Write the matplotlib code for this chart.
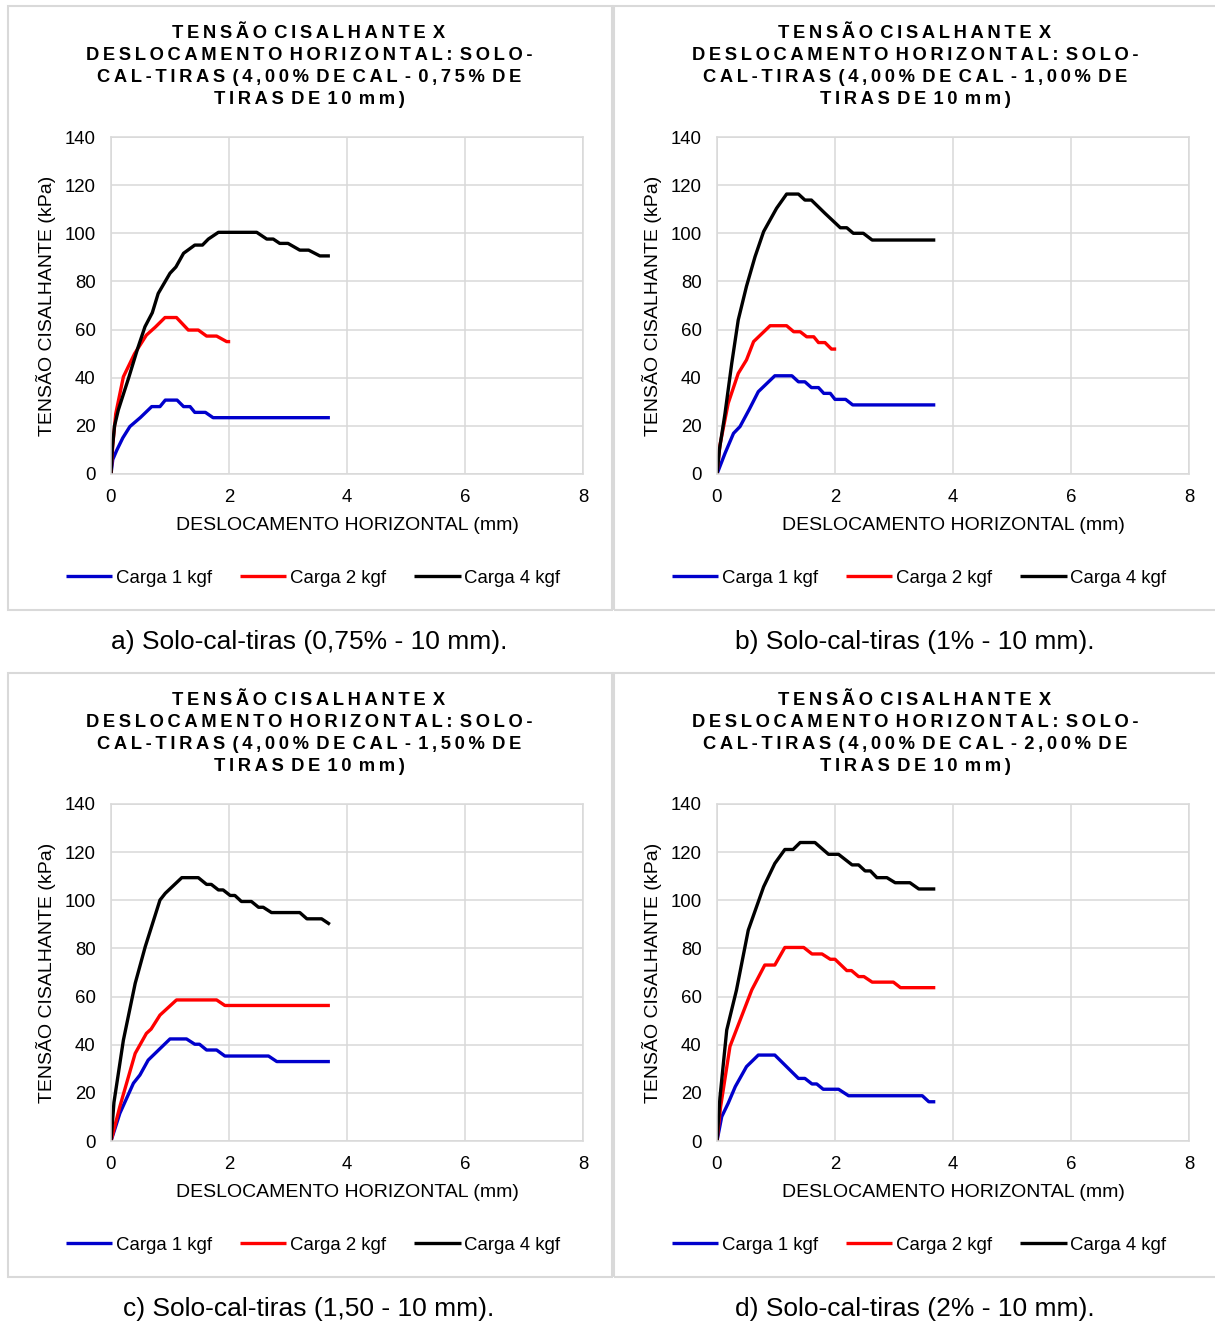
import matplotlib
matplotlib.use('Agg')
import matplotlib.pyplot as plt
from matplotlib.patches import Rectangle

plt.rcParams['font.family'] = ['Liberation Sans', 'DejaVu Sans']

W, H = 1215, 1324

# panel a) 0,75%
a_blue_x = [0, 0.03, 0.1, 0.2, 0.32, 0.5, 0.69, 0.75, 0.83, 0.92, 1.12, 1.23, 1.34, 1.42, 1.6, 1.73, 3.71]
a_blue_y = [0, 6, 10, 15, 19.7, 23.5, 28, 28, 28, 30.7, 30.7, 28, 28, 25.6, 25.6, 23.4, 23.4]
a_red_x = [0, 0.03, 0.08, 0.21, 0.4, 0.6, 0.75, 0.915, 1.11, 1.31, 1.48, 1.62, 1.79, 1.96, 2.02]
a_red_y = [0, 12, 25, 40.4, 50, 57.7, 61, 65, 65, 59.8, 59.8, 57.3, 57.3, 55, 55]
a_black_x = [0, 0.02, 0.06, 0.124, 0.3, 0.45, 0.576, 0.7, 0.8, 1.0, 1.1, 1.23, 1.42, 1.55, 1.65,
             1.82, 2.47, 2.64, 2.75, 2.86, 3.0, 3.2, 3.35, 3.54, 3.71]
a_black_y = [0, 10, 20, 26.6, 40, 52, 61.2, 67, 75, 83.4, 86, 91.7, 95.1, 95.1, 97.6,
             100.4, 100.4, 97.6, 97.6, 95.8, 95.8, 93, 93, 90.6, 90.6]

# panel b) 1%
b_blue_x = [0, 0.136, 0.28, 0.39, 0.55, 0.7, 0.98, 1.27, 1.38, 1.49, 1.6, 1.72, 1.81, 1.92, 2.0, 2.18, 2.3, 3.7]
b_blue_y = [0, 8.6, 16.9, 19.7, 27, 34.2, 40.8, 40.8, 38.3, 38.3, 35.9, 35.9, 33.5, 33.5, 31, 31, 28.7, 28.7]
b_red_x = [0, 0.05, 0.19, 0.36, 0.5, 0.62, 0.9, 1.18, 1.3, 1.41, 1.52, 1.64, 1.72, 1.83, 1.94, 2.02]
b_red_y = [0, 12, 29.4, 41.8, 47.4, 55, 61.6, 61.6, 59.1, 59.1, 57, 57, 54.6, 54.6, 51.9, 51.9]
b_black_x = [0, 0.04, 0.136, 0.25, 0.36, 0.5, 0.645, 0.79, 1.01, 1.18, 1.38, 1.49, 1.6, 1.83,
             2.09, 2.2, 2.31, 2.48, 2.63, 3.7]
b_black_y = [0, 10, 25.2, 46, 64, 78, 90.3, 100.7, 110.4, 116.3, 116.3, 113.8, 113.8, 108.3,
             102.3, 102.3, 100, 100, 97.2, 97.2]

# panel c) 1,50%
c_blue_x = [0, 0.15, 0.38, 0.49, 0.63, 1.0, 1.28, 1.42, 1.5, 1.62, 1.79, 1.93, 2.67, 2.81, 3.71]
c_blue_y = [0, 11.5, 24, 27.4, 33.6, 42.4, 42.4, 40.2, 40.2, 37.8, 37.8, 35.3, 35.3, 33, 33]
c_red_x = [0, 0.15, 0.41, 0.6, 0.68, 0.83, 1.11, 1.79, 1.93, 3.71]
c_red_y = [0, 14.3, 36.4, 44.7, 46.5, 52.3, 58.6, 58.6, 56.3, 56.3]
c_black_x = [0, 0.05, 0.21, 0.41, 0.58, 0.83, 0.92, 1.2, 1.48, 1.62, 1.7, 1.82, 1.9, 2.02, 2.1,
             2.21, 2.38, 2.5, 2.58, 2.72, 3.2, 3.32, 3.57, 3.71]
c_black_y = [0, 16, 41.9, 65.5, 80.7, 100.1, 102.9, 109.4, 109.4, 106.6, 106.6, 104.3, 104.3, 102, 102,
             99.5, 99.5, 97.1, 97.1, 94.9, 94.9, 92.3, 92.3, 90]

# panel d) 2%
d_blue_x = [0, 0.08, 0.19, 0.31, 0.5, 0.7, 0.98, 1.38, 1.49, 1.61, 1.69, 1.8, 2.06, 2.23, 3.48, 3.59, 3.7]
d_blue_y = [0, 10.1, 15.7, 22.6, 30.9, 35.7, 35.7, 26, 26, 23.7, 23.7, 21.5, 21.5, 18.8, 18.8, 16.3, 16.3]
d_red_x = [0, 0.06, 0.22, 0.59, 0.81, 0.98, 1.15, 1.47, 1.61, 1.78, 1.92, 2.0, 2.2, 2.28, 2.4, 2.49,
           2.63, 2.99, 3.11, 3.7]
d_red_y = [0, 14, 39.3, 62.8, 73.1, 73.1, 80.4, 80.4, 77.7, 77.7, 75.5, 75.5, 70.8, 70.8, 68.3, 68.3,
           66, 66, 63.7, 63.7]
d_black_x = [0, 0.05, 0.165, 0.33, 0.53, 0.79, 0.98, 1.15, 1.29, 1.41, 1.66, 1.89, 2.06, 2.29, 2.4,
             2.51, 2.6, 2.71, 2.88, 3.02, 3.27, 3.42, 3.7]
d_black_y = [0, 18, 46.1, 62.7, 87.6, 105.6, 115.3, 121.1, 121.1, 124, 124, 119.1, 119.1, 114.7, 114.7,
             112.2, 112.2, 109.4, 109.4, 107.3, 107.3, 104.7, 104.7]

percentages = ['0,75%', '1,00%', '1,50%', '2,00%']
captions = ['a) Solo-cal-tiras (0,75% - 10 mm).', 'b) Solo-cal-tiras (1% - 10 mm).',
            'c) Solo-cal-tiras (1,50 - 10 mm).', 'd) Solo-cal-tiras (2% - 10 mm).']
labels = ['Carga 1 kgf', 'Carga 2 kgf', 'Carga 4 kgf']
colors = ['#0000CC', '#FF0000', '#000000']

panels = [
    [(a_blue_x, a_blue_y), (a_red_x, a_red_y), (a_black_x, a_black_y)],
    [(b_blue_x, b_blue_y), (b_red_x, b_red_y), (b_black_x, b_black_y)],
    [(c_blue_x, c_blue_y), (c_red_x, c_red_y), (c_black_x, c_black_y)],
    [(d_blue_x, d_blue_y), (d_red_x, d_red_y), (d_black_x, d_black_y)],
]

grid_col = '#d9d9d9'


def spaced(s):
    # letter spacing inside words, a slightly wider gap between words (Excel-like title)
    return '\u2009\u2009'.join('\u2009'.join(w) for w in s.split(' '))


fig = plt.figure(figsize=(W / 100, H / 100), dpi=100)

# offsets in pixels: (panel left, panel top)
offsets = [(0, 0), (606, 0), (0, 667), (606, 667)]

for i, series in enumerate(panels):
    ox, oy = offsets[i]
    # panel frame
    fig.patches.append(Rectangle(((8 + ox) / W, 1 - (610 + oy) / H), 604 / W, 604 / H,
                                 transform=fig.transFigure, fill=False,
                                 edgecolor=grid_col, lw=1.5))
    ax = fig.add_axes([(111 + ox) / W, 1 - (474 + oy) / H, 472 / W, 337 / H])
    for (x, y), c, lab in zip(series, colors, labels):
        ax.plot(x, y, color=c, lw=2.4, label=lab, solid_capstyle='butt')
    ax.set_xlim(0, 8)
    ax.set_ylim(0, 140)
    ax.set_xticks([0, 2, 4, 6, 8])
    ax.set_yticks(range(0, 141, 20))
    ax.grid(True, color=grid_col, lw=1.1)
    ax.set_axisbelow(True)
    for sp in ax.spines.values():
        sp.set_color(grid_col)
        sp.set_linewidth(1.1)
    ax.tick_params(length=0, labelsize=13.4, pad=11)
    ax.set_xlabel('DESLOCAMENTO HORIZONTAL (mm)', fontsize=14, labelpad=8)
    ax.set_ylabel('TENSÃO CISALHANTE (kPa)', fontsize=14, labelpad=6)

    title_lines = ['TENSÃO CISALHANTE X',
                   'DESLOCAMENTO HORIZONTAL: SOLO-',
                   'CAL-TIRAS (4,00% DE CAL - ' + percentages[i] + ' DE',
                   'TIRAS DE 10 mm)']
    cx = 309 + ox
    for k, line in enumerate(title_lines):
        fig.text(cx / W, 1 - (34 + 21.8 * k + oy) / H, spaced(line), ha='center', va='center',
                 fontsize=13.2, fontweight='bold')

    ax.legend(loc='center', bbox_to_anchor=((313 + ox) / W, 1 - (578 + oy) / H),
              bbox_transform=fig.transFigure, ncol=3, frameon=False, fontsize=13.4,
              handlelength=2.5, handletextpad=0.2, columnspacing=1.5)

    fig.text((309 + ox) / W, 1 - (642 + oy) / H, captions[i], ha='center', va='center', fontsize=19)

fig.savefig('out.png', dpi=100)
